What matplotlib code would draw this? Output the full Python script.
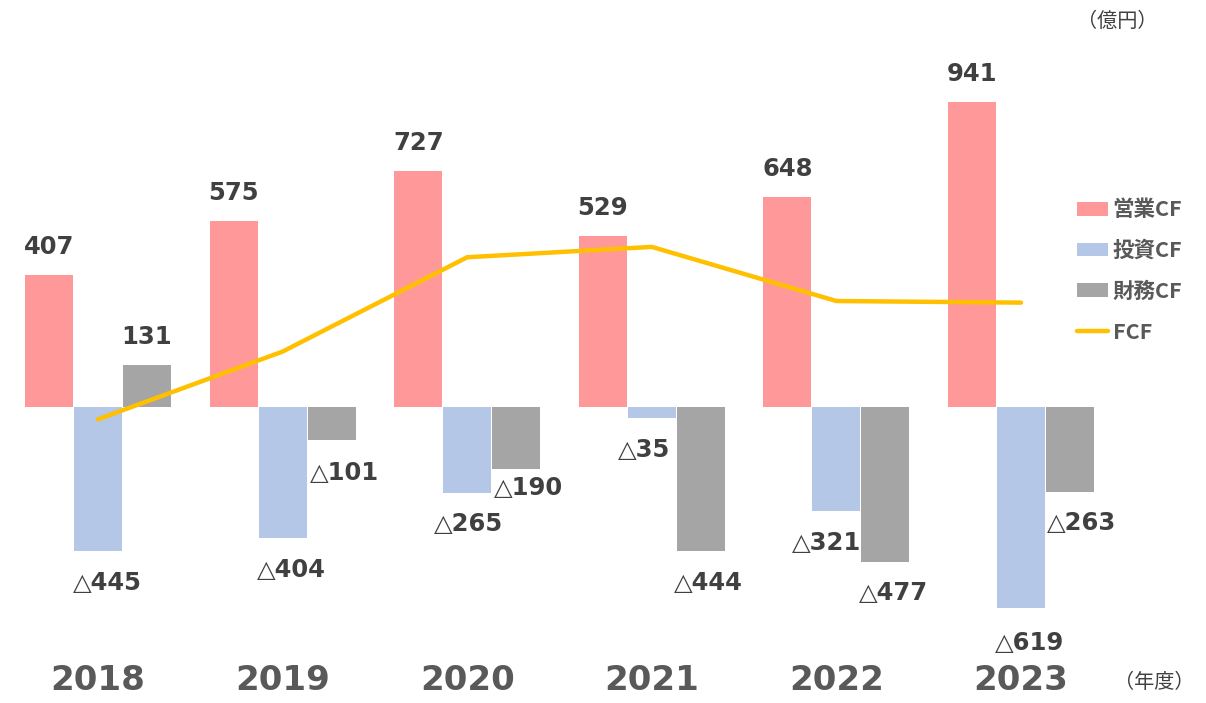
import matplotlib
matplotlib.use("Agg")
import matplotlib.pyplot as plt
import numpy as np

# values in 億円
years = ["2018", "2019", "2020", "2021", "2022", "2023"]
operating_cf = [407, 575, 727, 529, 648, 941]
investing_cf = [-445, -404, -265, -35, -321, -619]
financing_cf = [131, -101, -190, -444, -477, -263]
free_cf = [-38, 171, 462, 494, 327, 322]
series_names = ["営業CF", "投資CF", "財務CF", "FCF"]

COL_OP = "#FF9999"
COL_INV = "#B4C7E7"
COL_FIN = "#A5A5A5"
COL_FCF = "#FFC000"
TXT = "#404040"
YEAR_TXT = "#595959"
JP = ["Noto Sans CJK JP", "DejaVu Sans"]

W, H = 1206, 703
PX_PER_GROUP = 184.6
PX_PER_UNIT = 305 / 941
X0_PX, Y0_PX = 98, 407

# label nudges in pixels (dx, dy from bar end), the source places some by hand
OP_NUDGE = [(0, 28)] * 6
INV_NUDGE = [(9, -32), (9, -32), (1, -31), (-8, -32), (-10, -32), (9, -35)]
FIN_NUDGE = [(0, 28), (13, -33), (12, -19), (8, -32), (8, -31), (12, -31)]


def fmt(v):
    return f"{v}" if v >= 0 else f"△{-v}"


def main():
    fig = plt.figure(figsize=(W / 100, H / 100), dpi=100)
    ax = fig.add_axes([0, 0, 1, 1])
    ax.set_xlim(-X0_PX / PX_PER_GROUP, (W - X0_PX) / PX_PER_GROUP)
    ax.set_ylim(-(H - Y0_PX) / PX_PER_UNIT, Y0_PX / PX_PER_UNIT)
    ax.axis("off")

    x = np.arange(len(years))
    bw = 0.26
    step = 0.265
    groups = [(operating_cf, COL_OP, -step, OP_NUDGE),
              (investing_cf, COL_INV, 0.0, INV_NUDGE),
              (financing_cf, COL_FIN, step, FIN_NUDGE)]
    handles = []
    for (vals, col, off, nudge), name in zip(groups, series_names[:3]):
        h = ax.bar(x + off, vals, width=bw, color=col, label=name, zorder=2)
        handles.append(h)
        for xi, v, (dx, dy) in zip(x + off, vals, nudge):
            ax.annotate(fmt(v), (xi, v), xytext=(dx, dy),
                        textcoords="offset pixels", ha="center", va="center",
                        fontsize=17.5, fontweight="bold", color=TXT, family="DejaVu Sans")

    ln, = ax.plot(x, free_cf, color=COL_FCF, lw=3.2, solid_capstyle="round", zorder=3, label=series_names[3])
    handles.append(ln)

    for xi, y in zip(x, years):
        ax.text(xi, 1 - 681 / H, y, transform=ax.get_xaxis_transform(), ha="center", va="center",
                fontsize=24.5, fontweight="bold", color=YEAR_TXT, family="DejaVu Sans")

    fig.text(1117 / W, 1 - 21 / H, "（億円）", ha="center", va="center", fontsize=14.5, color=TXT, family=JP)
    fig.text(1154 / W, 1 - 683 / H, "（年度）", ha="center", va="center", fontsize=14.5, color=TXT, family=JP)

    leg = fig.legend(handles=handles, loc="center left", bbox_to_anchor=(1077 / W, 1 - 271 / H),
                     frameon=False, borderpad=0, borderaxespad=0, handlelength=1.45, handleheight=0.6,
                     handletextpad=0.2, labelspacing=0.92,
                     prop={"family": JP, "weight": "bold", "size": 15.5})
    for t in leg.get_texts():
        t.set_color(YEAR_TXT)

    fig.savefig("out.png", dpi=100)


if __name__ == "__main__":
    main()
